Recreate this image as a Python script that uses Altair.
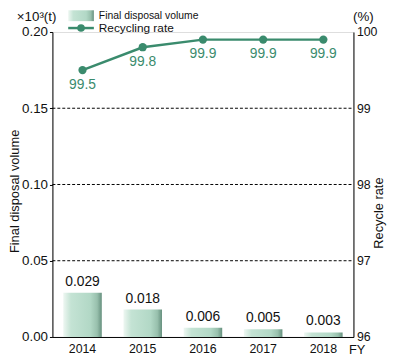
import altair as alt
import pandas as pd

years = ["2014", "2015", "2016", "2017", "2018"]
disposal = [0.029, 0.018, 0.006, 0.005, 0.003]
rate = [99.5, 99.8, 99.9, 99.9, 99.9]
left_ticks = [0.0, 0.05, 0.10, 0.15, 0.20]
grid_vals = [0.05, 0.10, 0.15]
right_ticks = [96, 97, 98, 99, 100]

df = pd.DataFrame({"year": years, "disposal": disposal, "rate": rate})
grid_df = pd.DataFrame({"g": grid_vals})
one = pd.DataFrame({"a": [0]})

FONT = "Liberation Sans"
GREEN = "#3a8b6d"
W, H = 305, 309

grad = alt.Gradient(
    gradient="linear",
    stops=[
        alt.GradientStop(color="#eef7f2", offset=0),
        alt.GradientStop(color="#c4e3d4", offset=0.2),
        alt.GradientStop(color="#b2d8c6", offset=0.7),
        alt.GradientStop(color="#98c0ad", offset=0.88),
        alt.GradientStop(color="#66907e", offset=1),
    ],
    x1=0, x2=1, y1=0, y2=0,
)

xenc = alt.X(
    "year:N",
    sort=years,
    scale=alt.Scale(paddingInner=0.36, paddingOuter=0.18),
    axis=alt.Axis(
        title="FY", titleX=300, titleY=13, titleAlign="left", titleBaseline="middle",
        titleFont=FONT, titleFontSize=13, titleFontWeight="normal", titleColor="#111",
        labelAngle=0, labelFont=FONT, labelFontSize=12.5, labelColor="#111",
        labelPadding=6, ticks=False, domainColor="#000", domainWidth=1,
    ),
)

yleft = alt.Y(
    "disposal:Q",
    scale=alt.Scale(domain=[0, 0.2], nice=False),
    axis=alt.Axis(
        title="Final disposal volume", values=left_ticks, format=".2f",
        titleAngle=270, titleX=-38, titleY=161, titleAlign="center", titleBaseline="middle",
        titleFont=FONT, titleFontSize=13, titleFontWeight="normal", titleColor="#111",
        labelFont=FONT, labelFontSize=13.5, labelColor="#111", labelPadding=2,
        tickSize=3, tickColor="#000", domainColor="#000", grid=False,
    ),
)

bars = alt.Chart(df).mark_bar(color=grad).encode(x=xenc, y=yleft)
bar_text = alt.Chart(df).mark_text(
    baseline="bottom", dy=-4, font=FONT, fontSize=14, color="#111"
).encode(x=alt.X("year:N", sort=years), y="disposal:Q", text=alt.Text("disposal:Q", format=".3f"))
grid = alt.Chart(grid_df).mark_rule(color="#000", strokeDash=[3, 2], strokeWidth=1).encode(
    y=alt.Y("g:Q"), x=alt.value(0), x2=alt.value(W)
)

# annotations / legend
ann = alt.Chart(one)
unit_l = ann.mark_text(font=FONT, fontSize=13.5, color="#111", align="center", baseline="middle").encode(
    x=alt.value(-16), y=alt.value(-15), text=alt.value("×10³(t)"))
unit_r = ann.mark_text(font=FONT, fontSize=13.5, color="#111", align="center", baseline="middle").encode(
    x=alt.value(315), y=alt.value(-15), text=alt.value("(%)"))
leg_rect = ann.mark_rect(color=grad).encode(
    x=alt.value(16), x2=alt.value(42), y=alt.value(-22), y2=alt.value(-11))
leg_t1 = ann.mark_text(font=FONT, fontSize=10.5, color="#111", align="left", baseline="middle").encode(
    x=alt.value(47), y=alt.value(-16), text=alt.value("Final disposal volume"))
leg_line = ann.mark_rule(color=GREEN, strokeWidth=2.5).encode(
    x=alt.value(16), x2=alt.value(42), y=alt.value(-4))
leg_pt = ann.mark_point(color=GREEN, filled=True, opacity=1, size=60).encode(
    x=alt.value(29), y=alt.value(-4))
leg_t2 = ann.mark_text(font=FONT, fontSize=12, color="#111", align="left", baseline="middle").encode(
    x=alt.value(47), y=alt.value(-4), text=alt.value("Recycling rate"))

left = alt.layer(grid, bars, bar_text, unit_l, unit_r, leg_rect, leg_t1, leg_line, leg_pt, leg_t2)

yright = alt.Y(
    "rate:Q",
    scale=alt.Scale(domain=[96, 100], nice=False),
    axis=alt.Axis(
        orient="right", title="Recycle rate", values=right_ticks, format="d",
        titleAngle=270, titleX=25, titleY=183, titleAlign="center", titleBaseline="middle",
        titleFont=FONT, titleFontSize=13, titleFontWeight="normal", titleColor="#111",
        labelFont=FONT, labelFontSize=12.5, labelColor="#111", labelPadding=3,
        ticks=False, domainColor="#000", grid=False,
    ),
)
line = alt.Chart(df).mark_line(color=GREEN, strokeWidth=2.5).encode(
    x=alt.X("year:N", sort=years), y=yright)
pts = alt.Chart(df).mark_point(color=GREEN, filled=True, opacity=1, size=70).encode(
    x=alt.X("year:N", sort=years), y="rate:Q")
line_text = alt.Chart(df).mark_text(
    baseline="top", dy=8, font=FONT, fontSize=14, color=GREEN
).encode(x=alt.X("year:N", sort=years), y="rate:Q", text=alt.Text("rate:Q", format=".1f"))

right = alt.layer(line, pts, line_text)

chart = alt.layer(left, right).resolve_scale(y="independent").properties(
    width=W, height=H,
    autosize=alt.AutoSizeParams(type="none"),
    padding={"left": 45, "top": 22, "right": 35, "bottom": 20},
).configure_view(stroke=None).configure(background="white")

chart.save("out.html", embed_options={"renderer": "svg", "actions": False})
